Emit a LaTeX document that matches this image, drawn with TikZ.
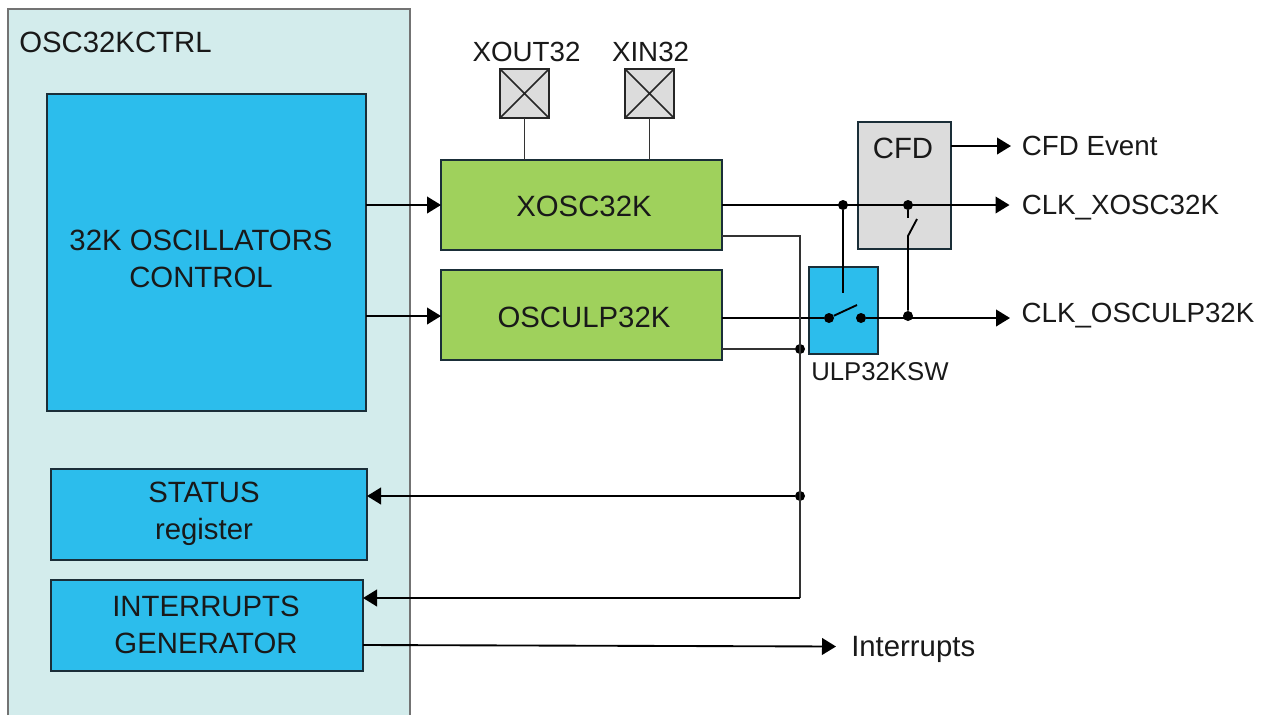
\documentclass[tikz,border=0pt]{standalone}
\usepackage{fontspec}
\setmainfont{Liberation Sans}
\usetikzlibrary{positioning,arrows.meta,calc}
\definecolor{figblue}{HTML}{2CBDEC}
\definecolor{figgreen}{HTML}{9FD15C}
\definecolor{figgrey}{HTML}{DCDCDC}
\definecolor{figpale}{HTML}{D3ECEC}
\definecolor{figedge}{HTML}{1A2E38}
\tikzset{
  fig/.style={font=\fontsize{22}{28}\selectfont,text=black!90},
  box/.style 2 args={draw=figedge,line width=1.5pt,anchor=north west,inner sep=0pt,outer sep=0pt,align=center,
              minimum width=#1*0.75pt,minimum height=#2*0.75pt},
  bluebox/.style 2 args={box={#1}{#2},fill=figblue},
  greenbox/.style 2 args={box={#1}{#2},fill=figgreen},
  greybox/.style 2 args={box={#1}{#2},fill=figgrey,line width=2pt},
  padbox/.style={box={49}{49},fill=figgrey,draw=black!85,line width=1.2pt},
  ln/.style={-{Triangle[length=10.5pt,width=12.5pt]},line width=1.4pt},
  wire/.style={line width=1.4pt},
  thinwire/.style={line width=1.1pt,draw=black!80},
  dot/.style={circle,fill=black,inner sep=0pt,minimum size=7.5pt},
  lbl/.style={anchor=west,font=\fontsize{20.8}{26}\selectfont,inner ysep=0pt,inner xsep=8pt,text depth=0pt},
  txt/.style={inner sep=0pt},
}

\begin{document}
\begin{tikzpicture}[fig,x=0.75pt,y=-0.75pt]
\useasboundingbox (0,0) rectangle (1265,715);

% control block
\node[anchor=north west,fill=figpale,inner sep=0pt,outer sep=0pt,minimum width=402*0.75pt,minimum height=706*0.75pt] (osc) at (8,9) {};
\draw[draw=black!55,line width=0.9pt] (osc.south west) -- (osc.north west) -- (osc.north east) -- (osc.south east);
\node[txt,anchor=west] (osctxt) at (19,42) {OSC32KCTRL};

\node[bluebox={319}{317}] (ctrl) at (47,94) {};
\node[txt,align=center] (ctrltxt) at (201,259) {32K OSCILLATORS\\CONTROL};
\node[bluebox={316}{91}] (status) at (51,469) {};
\node[txt,align=center] (statustxt) at (204,514) {STATUS\\register};
\node[bluebox={312}{91}] (intgen) at (51,580) {};
\node[txt,align=center] (intgentxt) at (206,625) {INTERRUPTS\\GENERATOR};

% oscillators and pads
\node[greenbox={281}{90}] (xosc) at (441,160) {};
\node[txt] (xosctxt) at (584,206) {XOSC32K};
\node[greenbox={281}{90}] (ulp) at (441,270) {};
\node[txt] (ulptxt) at (584,317) {OSCULP32K};
\node[padbox] (xout) at (500,69) {};
\node[padbox] (xin) at (625,69) {};
\node[txt,above=5.5pt of xout,xshift=1.5pt,font=\fontsize{20.8}{26}\selectfont] (xouttxt) {XOUT32};
\node[txt,above=5.5pt of xin,xshift=0.8pt,font=\fontsize{20.8}{26}\selectfont] (xintxt) {XIN32};
\draw[line width=1.1pt,draw=black!85] (xout.north west) -- (xout.south east) (xout.north east) -- (xout.south west);
\draw[line width=1.1pt,draw=black!85] (xin.north west) -- (xin.south east) (xin.north east) -- (xin.south west);
\draw[thinwire] (xout.south) -- (xout.south |- xosc.north);
\draw[thinwire] (xin.south) -- (xin.south |- xosc.north);

% CFD and switch
\node[greybox={93}{127}] (cfd) at (858,122) {};
\node[txt] (cfdtxt) at (903,148) {CFD};
\node[bluebox={69}{87}] (sw) at (809,267) {};
\node[txt,anchor=north west,font=\fontsize{19.3}{24}\selectfont] (swtxt) at (811,362) {ULP32KSW};

% outputs
\node[lbl] (cfdout) at (1011,146) {CFD Event};
\node[lbl,inner xsep=9pt] (xclk) at (1009.5,205) {CLK\_XOSC32K};
\node[lbl,inner xsep=8.5pt] (ulpclk) at (1010,313) {CLK\_OSCULP32K};
\node[lbl,font=\fontsize{22}{28}\selectfont,inner xsep=15*0.75pt] (irq) at (836,646.5) {Interrupts};

\node[dot] (j1) at (843,205) {};
\node[dot] (j2) at (908,205) {};
\node[dot] (j3) at (908,316) {};
\node[dot] (swa) at (829,318) {};
\node[dot] (swb) at (861,318) {};
\node[dot] (j4) at (800,349) {};
\node[dot] (j5) at (800,496) {};
\coordinate (cfdsw1) at (908,218);
\coordinate (cfdsw2) at (908,236);
\coordinate (cfdsw3) at (917,219);
\coordinate (swarm) at (857,305);
\coordinate (swin) at (843,293);
\coordinate (xtap) at (722,236);
\coordinate (bus) at (800,236);
\coordinate (bus2) at (800,598);
\coordinate (ulptap) at (722,349);
\coordinate (irqa) at (363,645);

\draw[ln] (ctrl.east |- xosc.west) -- (xosc.west);
\draw[ln] (ctrl.east |- 0,316) -- (ulp.west |- 0,316);
\draw[ln] (xosc.east) -- (xclk.west);
\draw[wire] (j1) -- (swin);
\draw[wire] (j2) -- (cfdsw1);
\draw[wire] (j3) -- (cfdsw2) -- (cfdsw3);
\draw[ln] (cfd.east |- cfdout.west) -- (cfdout.west);
\draw[wire] (ulp.east |- swa) -- (swa);
\draw[wire] (swa) -- (swarm);
\draw[ln] (swb) -- (swb -| ulpclk.west);
\draw[thinwire] (xtap) -- (bus) -- (bus2);
\draw[thinwire] (ulptap) -- (j4);
\draw[ln] (j5) -- (status.east |- j5);
\draw[ln] (bus2) -- (intgen.east |- bus2);
\draw[ln] (irqa) -- (irq.west);

\end{tikzpicture}
\end{document}
